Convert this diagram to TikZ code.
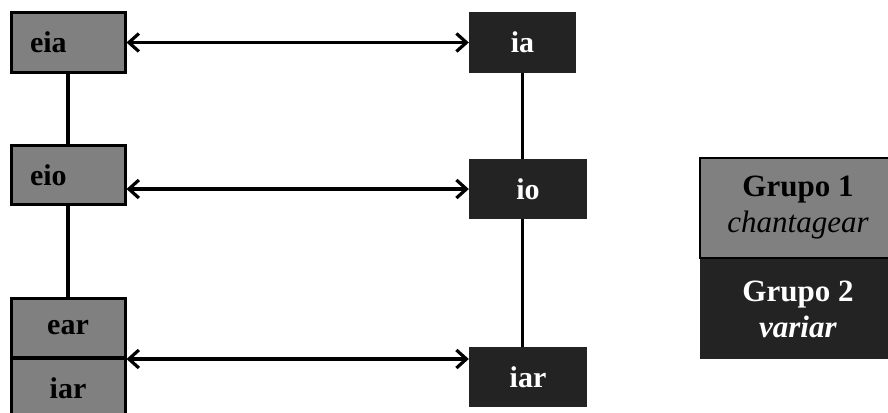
\documentclass[tikz,border=0pt]{standalone}
\usepackage{fontspec}
\setmainfont{Liberation Serif}
\usetikzlibrary{arrows.meta}
\definecolor{gboxc}{HTML}{808080}
\definecolor{dboxc}{HTML}{232323}
\begin{document}
\begin{tikzpicture}[x=1pt,y=-1pt,
  lbl/.style={font=\fontsize{30}{36}\selectfont\bfseries},
  gbox/.style={draw=black, line width=3pt, fill=gboxc, minimum width=114pt, minimum height=59pt, inner sep=0pt, lbl},
  dbox/.style={fill=dboxc, text=white, minimum height=60pt, inner sep=0pt, lbl},
  link/.style={line width=3.2pt},
  dbl/.style={line width=3.2pt, {Straight Barb[length=10pt,width=18pt]}-{Straight Barb[length=10pt,width=18pt]}},
  legbox/.style={minimum width=196pt, minimum height=100pt, inner sep=0pt, align=center, font=\fontsize{31}{36}\selectfont}]
\useasboundingbox (0,0) rectangle (888,412);
% left column
\node[gbox, text width=76pt, inner xsep=19pt, align=left] (eia) at (68,42.5) {eia};
\node[gbox, text width=76pt, inner xsep=19pt, align=left] (eio) at (68,175) {eio};
\node[gbox] (ear) at (68,328) {ear};
\node[gbox] (iarL) at (68,388) {iar};
% right column
\node[dbox, minimum width=107pt] (ia) at (522.5,42.5) {ia};
\node[dbox, minimum width=118pt] (io) at (528,189) {io};
\node[dbox, minimum width=118pt] (iarR) at (528,377) {iar};
% vertical links
\draw[link] (eia.south) -- (eio.north);
\draw[link] (eio.south) -- (ear.north);
\draw[link] (ia.south) -- (ia.south |- io.north);
\draw[link] (ia.south |- io.south) -- (ia.south |- iarR.north);
% horizontal arrows
\draw[dbl] (eia.east) -- (ia.west);
\draw[dbl] (eio.east |- io.west) -- (io.west);
\draw[dbl] (ear.south east) -- (ear.south east -| iarR.west);
% legend
\node[legbox, fill=gboxc, draw=black, line width=2pt] (g1) at (798,208) {\textbf{Grupo 1}\\\textit{chantagear}};
\node[legbox, fill=dboxc, text=white, anchor=north] (g2) at (g1.south) {\textbf{Grupo 2}\\\textbf{\textit{variar}}};
\end{tikzpicture}
\end{document}
